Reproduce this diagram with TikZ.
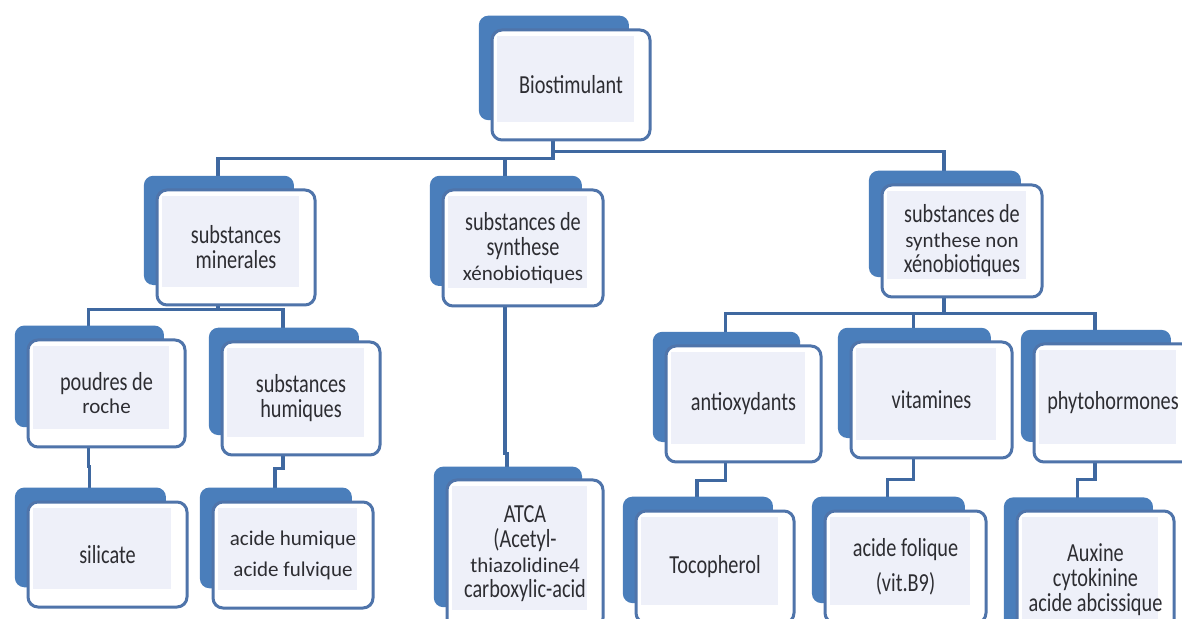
\documentclass[tikz,border=0pt]{standalone}
\usepackage{fontspec}
\setmainfont{Carlito}
\newfontfamily\condfont{Carlito}[FakeStretch=0.78]
\newfontfamily\widefont{Carlito}
\newcommand{\widetxt}[1]{{\widefont\fontsize{10.5}{12.5}\selectfont #1}}
\usetikzlibrary{shadows,backgrounds}
\definecolor{backblue}{RGB}{74,126,187}
\definecolor{edgeblue}{RGB}{79,116,170}
\definecolor{linkblue}{RGB}{63,104,160}
\definecolor{innerfill}{RGB}{238,240,249}
\definecolor{txtgray}{RGB}{45,45,50}

\begin{document}
\begin{tikzpicture}[x=0.5pt, y=-0.5pt,
    box/.style={rectangle, rounded corners=5pt, draw=edgeblue, line width=1.5pt, fill=white,
      copy shadow={shadow xshift=-9pt, shadow yshift=9pt, shadow scale=0.95, fill=backblue, draw=none},
      path picture={\fill[innerfill, sharp corners] ([shift={(2.5pt,-3pt)}]path picture bounding box.north west) rectangle ([shift={(-8pt,9pt)}]path picture bounding box.south east);},
      text=txtgray, align=center, inner sep=0pt,
      font=\condfont\fontsize{13}{12.5}\selectfont},
    link/.style={draw=linkblue, line width=1.8pt}]
    \useasboundingbox (0,0) rectangle (1182,619);
    \clip (0,0) rectangle (1182,619);
    \node[box, minimum width=79pt, minimum height=55pt] (bio) at (571,85) {Biostimulant};
    \node[box, minimum width=79pt, minimum height=57.5pt] (min) at (236,247.5) {substances\\minerales};
    \node[box, minimum width=80pt, minimum height=58pt] (xeno) at (523,248) {substances de\\synthese\\\widetxt{xénobiotiques}};
    \node[box, minimum width=80pt, minimum height=56pt] (nonx) at (962,241) {substances de\\\widetxt{synthese non}\\xénobiotiques};
    \node[box, minimum width=78.5pt, minimum height=53.5pt] (poud) at (106.5,393.5) {poudres de\\[-1pt]\widetxt{roche}};
    \node[box, minimum width=79pt, minimum height=56.5pt] (hum) at (301,398.5) {substances\\humiques};
    \node[box, minimum width=79.5pt, minimum height=52.5pt] (sil) at (107.5,554.5) {silicate};
    \node[box, minimum width=80pt, minimum height=53pt] (acid) at (293,555) {\widetxt{acide humique}\\[3pt]\widetxt{acide fulvique}};
    \node[box, minimum width=78pt, minimum height=74pt] (atca) at (525,554) {ATCA\\(Acetyl-\\\widetxt{thiazolidine4}\\carboxylic-acid};
    \node[box, minimum width=77.5pt, minimum height=58pt] (anti) at (743.5,404) {antioxydants};
    \node[box, minimum width=80.5pt, minimum height=58pt] (vita) at (931.5,400) {vitamines};
    \node[box, minimum width=79pt, minimum height=59pt] (phyto) at (1113,403) {phytohormones};
    \node[box, minimum width=79pt, minimum height=56pt] (toco) at (715,567) {Tocopherol};
    \node[box, minimum width=80.5pt, minimum height=56pt] (foli) at (905.5,567) {acide folique\\[5pt](vit.B9)};
    \node[box, minimum width=78.5pt, minimum height=69pt] (aux) at (1095.5,580) {Auxine\\cytokinine\\acide abcissique};
    \begin{scope}[on background layer]
      \fill[white] (0,0) rectangle (1182,619);
      \draw[link] ([xshift=-9pt]bio.south) -- ++(0,17) -| ([xshift=-9pt]min.north);
      \draw[link] ([xshift=-9pt]bio.south) -- ++(0,17) -| ([xshift=-9pt]xeno.north);
      \draw[link] ([xshift=-9pt]bio.south) -- ++(0,10) -| ([xshift=-9pt]nonx.north);
      \draw[link] ([xshift=-9pt]min.south) -- ++(0,3) -| ([xshift=-9pt]poud.north);
      \draw[link] ([xshift=-9pt]min.south) -- ++(0,3) -| ([xshift=-9pt]hum.north);
      \draw[link] ([xshift=-9pt]xeno.south) -- ++(0,146) -| ([xshift=-9pt]atca.north);
      \draw[link] ([xshift=-9pt]nonx.south) -- ++(0,15) -| ([xshift=-9pt]anti.north);
      \draw[link] ([xshift=-9pt]nonx.south) -- ++(0,15) -| ([xshift=-9pt]vita.north);
      \draw[link] ([xshift=-9pt]nonx.south) -- ++(0,15) -| ([xshift=-9pt]phyto.north);
      \draw[link] ([xshift=-9pt]poud.south) -- ++(0,18) -| ([xshift=-9pt]sil.north);
      \draw[link] ([xshift=-9pt]hum.south) -- ++(0,12) -| ([xshift=-9pt]acid.north);
      \draw[link] ([xshift=-9pt]anti.south) -- ++(0,17) -| ([xshift=-9pt]toco.north);
      \draw[link] ([xshift=-9pt]vita.south) -- ++(0,20) -| ([xshift=-9pt]foli.north);
      \draw[link] ([xshift=-9pt]phyto.south) -- ++(0,16) -| ([xshift=-9pt]aux.north);
    \end{scope}
  \end{tikzpicture}
\end{document}
